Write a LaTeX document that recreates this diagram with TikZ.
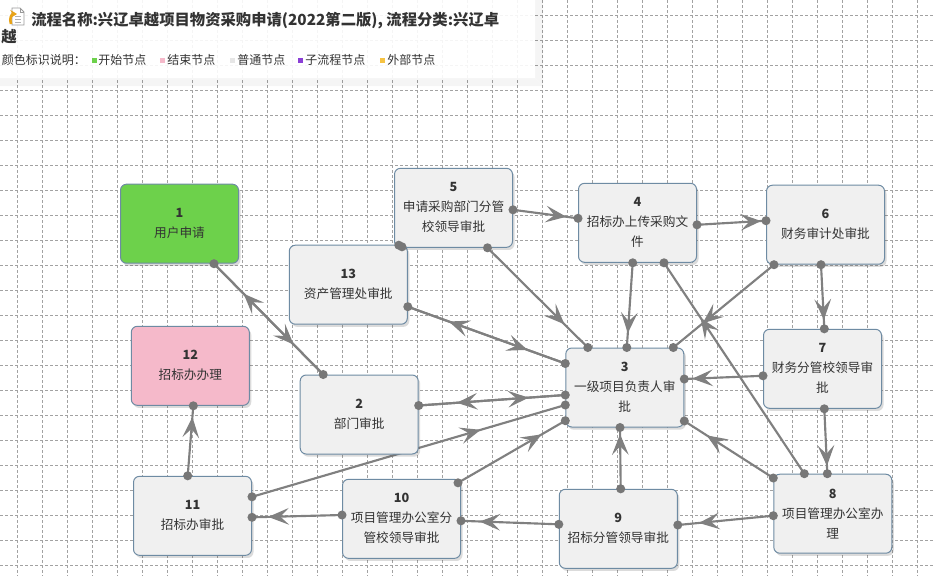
\documentclass[tikz,border=0pt]{standalone}
\usepackage{fontspec}
\setmainfont{Noto Sans CJK SC}
\usetikzlibrary{arrows.meta,decorations.markings,shadows,calc}
\definecolor{edgegray}{HTML}{808080}
\definecolor{dotgray}{HTML}{777777}
\definecolor{nodeborder}{HTML}{6E8BA3}
\definecolor{nodefill}{HTML}{F0F0F0}
\definecolor{startgreen}{HTML}{6DD14B}
\definecolor{endpink}{HTML}{F5B9CA}
\definecolor{txt}{HTML}{333333}
\definecolor{gridgray}{HTML}{A2A2A2}
\definecolor{legpurple}{HTML}{8B3FD6}
\definecolor{legorange}{HTML}{F6C343}
\definecolor{leggray}{HTML}{E6E6E6}
\definecolor{iconorange}{HTML}{E8A317}
\pgfdeclarelayer{bg}
\pgfdeclarelayer{edges}
\pgfdeclarelayer{front}
\pgfsetlayers{bg,edges,main,front}
\tikzset{
  gridline/.style={draw=gridgray, line width=0.6pt, dash pattern=on 2.25pt off 1.5pt},
  flownode/.style={draw=nodeborder, line width=0.75pt, fill=nodefill, rounded corners=4.5pt,
    minimum width=88.5pt, minimum height=59.25pt, inner sep=0pt, align=center,
    font=\fontsize{9.5pt}{15pt}\selectfont, text=txt,
    drop shadow={shadow xshift=1.5pt, shadow yshift=-2pt, opacity=0.2, fill=black!70}},
  conn/.style={color=edgegray, line width=1.6pt},
  midarrow/.style={postaction={decorate,decoration={markings,
    mark=at position #1 with {\arrow[color=edgegray]{Stealth[length=15.5pt,width=12.5pt,inset=6.5pt]}}}}},
  legtext/.style={anchor=west, inner sep=0pt, text=txt, font=\fontsize{9pt}{11pt}\selectfont},
}
\begin{document}
\begin{tikzpicture}[x=0.75pt,y=-0.75pt]
\useasboundingbox (0,0) rectangle (934,576);
% grid
\begin{pgfonlayer}{bg}
\fill[white] (0,0) rectangle (934,576);
\foreach \k in {1,...,37} {\draw[gridline] ({-7.7+25*\k},0) -- ({-7.7+25*\k},576);}
\foreach \k in {0,...,22} {\draw[gridline] (0,{15+25*\k}) -- (934,{15+25*\k});}
\end{pgfonlayer}
% header box
\foreach \i in {1,...,8} {\fill[black,opacity=0.035,even odd rule] (-10,-10) rectangle ({535+\i},{78+\i}) (-10,-10) rectangle ({535+\i-1},{78+\i-1});}
\fill[white,opacity=0.9] (-10,-10) rectangle (535,78);
% icon
\draw[gray!80,fill=white,line width=0.6pt] (12,8) -- (20,8) -- (24,12) -- (24,25) -- (12,25) -- cycle;
\draw[gray!80,line width=0.6pt] (20,8) -- (20,12) -- (24,12);
\draw[gray!60,line width=0.5pt] (15,16) -- (21,16) (15,19) -- (21,19) (15,22) -- (21,22);
\draw[iconorange,line width=2pt,-{Stealth[length=5pt,width=6pt]}] (11,24) .. controls (9,18) and (12,14) .. (17,14);
\node[anchor=west,inner sep=0pt,text=txt,font=\bfseries\fontsize{11.5pt}{14pt}\selectfont] (title) at (31,20.5) {流程名称:兴辽卓越项目物资采购申请(2022第二版), 流程分类:兴辽卓};
\node[anchor=west,inner sep=0pt,text=txt,font=\bfseries\fontsize{11.5pt}{14pt}\selectfont] (title2) at (1,36.5) {越};
\node[legtext] (leg0) at (1.7,59.5) {颜色标识说明：};
\fill[startgreen] (92,57.5) rectangle (97,62.5);
\node[legtext] (leg1) at (98,59.5) {开始节点};
\fill[endpink] (160,57.5) rectangle (165,62.5);
\node[legtext] (leg2) at (167,59.5) {结束节点};
\fill[leggray] (230,57.5) rectangle (235,62.5);
\node[legtext] (leg3) at (237,59.5) {普通节点};
\fill[legpurple] (298,57.5) rectangle (303,62.5);
\node[legtext] (leg4) at (305,59.5) {子流程节点};
\fill[legorange] (380,57.5) rectangle (385,62.5);
\node[legtext] (leg5) at (387,59.5) {外部节点};
% nodes
\node[flownode,fill=startgreen] (n1) at (179.5,223.7) {\textbf{1}\\用户申请};
\node[flownode,fill=endpink] (n12) at (190.3,365.8) {\textbf{12}\\招标办办理};
\node[flownode] (n13) at (348.3,284.7) {\textbf{13}\\资产管理处审批};
\node[flownode] (n5) at (453.5,207.8) {\textbf{5}\\申请采购部门分管\\校领导审批};
\node[flownode] (n2) at (359.2,414.5) {\textbf{2}\\部门审批};
\node[flownode] (n4) at (637.5,222.8) {\textbf{4}\\招标办上传采购文\\件};
\node[flownode] (n6) at (825.5,224.7) {\textbf{6}\\财务审计处审批};
\node[flownode] (n7) at (822.5,368.8) {\textbf{7}\\财务分管校领导审\\批};
\node[flownode] (n3) at (624.8,387.5) {\textbf{3}\\一级项目负责人审\\批};
\node[flownode] (n11) at (192.5,515.8) {\textbf{11}\\招标办审批};
\node[flownode] (n10) at (401.5,518.8) {\textbf{10}\\项目管理办公室分\\管校领导审批};
\node[flownode] (n9) at (618.3,528.8) {\textbf{9}\\招标分管领导审批};
\node[flownode] (n8) at (832.8,513.7) {\textbf{8}\\项目管理办公室办\\理};
% connector ends
\coordinate (e1a) at ($(n1.south)+(34.5,0)$);
\coordinate (e1b) at ($(n2.north)+(-36,0)$);
\coordinate (e2a) at ($(n13.east)+(0,22)$);
\coordinate (e2b) at ($(n3.west)+(0,-24)$);
\coordinate (e3a) at ($(n2.east)+(0,-9)$);
\coordinate (e3b) at ($(n3.west)+(0,7.5)$);
\coordinate (e4a) at ($(n11.east)+(0,-19)$);
\coordinate (e4b) at ($(n3.west)+(0,17.5)$);
\coordinate (e5a) at ($(n10.north east)+(-3,4)$);
\coordinate (e5b) at ($(n3.west)+(0,33.2)$);
\coordinate (e6a) at ($(n5.south)+(34,0)$);
\coordinate (e6b) at ($(n3.north)+(-37,0)$);
\coordinate (e7a) at ($(n5.east)+(0,2)$);
\coordinate (e7b) at ($(n4.west)+(0,-4.5)$);
\coordinate (e8a) at ($(n4.south)+(-4.8,0)$);
\coordinate (e8b) at ($(n3.north)+(2,0)$);
\coordinate (e9a) at ($(n4.east)+(0,2)$);
\coordinate (e9b) at ($(n6.west)+(0,-4)$);
\coordinate (e10a) at ($(n6.south)+(-51.5,0)$);
\coordinate (e10b) at ($(n3.north)+(48.5,0)$);
\coordinate (e11a) at ($(n6.south)+(-4.5,0)$);
\coordinate (e11b) at ($(n7.north)+(1.8,0)$);
\coordinate (e12a) at ($(n8.north)+(-28.5,0)$);
\coordinate (e12b) at ($(n4.south)+(26.5,0)$);
\coordinate (e13a) at ($(n7.west)+(0,7)$);
\coordinate (e13b) at ($(n3.east)+(0,-8.5)$);
\coordinate (e14a) at ($(n7.south)+(1.8,0)$);
\coordinate (e14b) at ($(n8.north)+(-5.5,0)$);
\coordinate (e15a) at ($(n8.north west)+(0,4.3)$);
\coordinate (e15b) at ($(n3.east)+(0,33.5)$);
\coordinate (e16a) at ($(n8.west)+(0,2)$);
\coordinate (e16b) at ($(n9.east)+(0,-3.8)$);
\coordinate (e17a) at ($(n9.north)+(2.4,0)$);
\coordinate (e17b) at ($(n3.south)+(-4.8,0)$);
\coordinate (e18a) at ($(n9.west)+(0,-4.5)$);
\coordinate (e18b) at ($(n10.east)+(0,2)$);
\coordinate (e19a) at ($(n10.west)+(0,-3.8)$);
\coordinate (e19b) at ($(n11.east)+(0,1.5)$);
\coordinate (e20a) at ($(n11.north)+(-4.8,0)$);
\coordinate (e20b) at ($(n12.south)+(3,0)$);
\coordinate (e21a) at ($(n13.north east)+(-9,0.5)$);
\coordinate (e21b) at ($(n5.south west)+(8,-1)$);
% connectors
\begin{pgfonlayer}{edges}
\draw[conn,midarrow=0.73] (e1a) -- (e1b);
\draw[conn,midarrow=0.73] (e1b) -- (e1a);
\draw[conn,midarrow=0.76] (e2a) -- (e2b);
\draw[conn,midarrow=0.74] (e2b) -- (e2a);
\draw[conn,midarrow=0.75] (e3a) -- (e3b);
\draw[conn,midarrow=0.74] (e3b) -- (e3a);
\draw[conn,midarrow=0.73] (e4a) -- (e4b);
\draw[conn,midarrow=0.78] (e5a) -- (e5b);
\draw[conn,midarrow=0.77] (e6a) -- (e6b);
\draw[conn,midarrow=0.82] (e7a) -- (e7b);
\draw[conn,midarrow=0.83] (e8a) -- (e8b);
\draw[conn,midarrow=0.93] (e9a) -- (e9b);
\draw[conn,midarrow=0.71] (e10a) -- (e10b);
\draw[conn,midarrow=0.86] (e11a) -- (e11b);
\draw[conn,midarrow=0.74] (e12a) -- (e12b);
\draw[conn,midarrow=0.90] (e13a) -- (e13b);
\draw[conn,midarrow=0.88] (e14a) -- (e14b);
\draw[conn,midarrow=0.75] (e15a) -- (e15b);
\draw[conn,midarrow=0.78] (e16a) -- (e16b);
\draw[conn,midarrow=0.89] (e17a) -- (e17b);
\draw[conn,midarrow=0.81] (e18a) -- (e18b);
\draw[conn,midarrow=0.82] (e19a) -- (e19b);
\draw[conn,midarrow=0.84] (e20a) -- (e20b);
\draw[conn] (e21a) -- (e21b);
\end{pgfonlayer}
\begin{pgfonlayer}{front}
\foreach \c in {e1a,e1b,e2a,e2b,e3a,e3b,e4a,e4b,e5a,e5b,e6a,e6b,e7a,e7b,e8a,e8b,e9a,e9b,e10a,e10b,e11a,e11b,e12a,e12b,e13a,e13b,e14a,e14b,e15a,e15b,e16a,e16b,e17a,e17b,e18a,e18b,e19a,e19b,e20a,e20b,e21a,e21b}
  {\fill[dotgray] (\c) circle[radius=3.4pt];}
\end{pgfonlayer}
\end{tikzpicture}
\end{document}
